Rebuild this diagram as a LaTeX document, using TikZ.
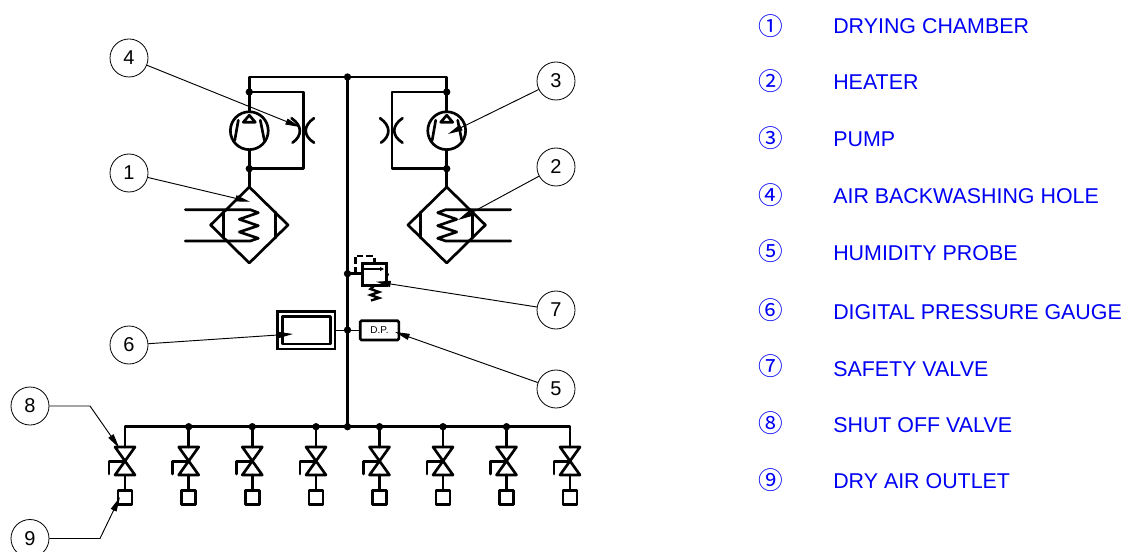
\documentclass[tikz,border=0pt]{standalone}
\usepackage{fontspec}
\setmainfont{Liberation Sans}
\newfontfamily\circfont{Noto Sans CJK JP}
\usetikzlibrary{arrows.meta}
\definecolor{legendblue}{RGB}{0,0,245}
\tikzset{
  x=0.75pt,y=-0.75pt,
  pipe/.style={line width=2pt,black,line join=round,line cap=round},
  lead/.style={line width=0.7pt,black,-{Triangle[length=11pt,width=4.6pt]}},
  callout/.style={circle,draw=black,line width=0.6pt,minimum size=28.5pt,inner sep=0pt,font=\fontsize{15}{16}\selectfont},
  jun/.style={circle,fill=black,inner sep=0pt,minimum size=5.5pt},
  legendtxt/.style={anchor=west,text=legendblue,font=\fontsize{16.05}{18}\selectfont,inner sep=0pt},
  legendnum/.style={anchor=center,text=legendblue,font=\circfont\fontsize{18.5}{20}\selectfont,inner sep=0pt},
}
\newcommand{\pumpsym}[2]{%
  \draw[pipe] (#1,#2) circle[radius=14.2pt];
  \draw[pipe] (#1,#2-15.5) -- (#1-6,#2-8.5) -- (#1+6,#2-8.5) -- cycle;
  \draw[pipe] (#1-11,#2-10.5) -- (#1-14.5,#2+9.5);
  \draw[pipe] (#1+11,#2-10.5) -- (#1+15,#2+9.5);
}
\newcommand{\exch}[3]{% x centre, y centre, side (+1 coil from left, -1 from right)
  \draw[pipe] (#1,#2-38) -- (#1+38.7,#2) -- (#1,#2+38) -- (#1-38.7,#2) -- cycle;
  \draw[pipe] (#1-26,#2-13) -- (#1-26,#2+13);
  \draw[pipe] (#1+26,#2-13) -- (#1+26,#2+13);
  \draw[pipe] (#1-#3*64,#2-15.3) -- (#1+#3*1,#2-15.3) -- (#1+#3*9,#2-12.3) -- (#1-#3*10,#2-5.7) -- (#1+#3*9,#2+0.7) -- (#1-#3*10,#2+7) -- (#1+#3*9,#2+13.3) -- (#1+#3*1,#2+16) -- (#1-#3*64,#2+16);
}
\newcommand{\orifice}[2]{%
  \draw[pipe] (#1-12,#2-12.5) .. controls (#1-1,#2-5) and (#1-1,#2+5) .. (#1-11,#2+12);
  \draw[pipe] (#1+10.5,#2-12.5) .. controls (#1-0.5,#2-5) and (#1-0.5,#2+5) .. (#1+10.5,#2+12);
}
\newcommand{\valvesym}[1]{%
  \draw[pipe] (#1,427) -- (#1,447);
  \draw[pipe] (#1-10,447) -- (#1+10,447) -- (#1-10,475) -- (#1+10,475) -- cycle;
  \draw[pipe] (#1,475) -- (#1,490.7);
  \draw[pipe] (#1-7,490.7) rectangle (#1+7,504.3);
  \draw[pipe] (#1,461.7) -- (#1-16,461.7) -- (#1-16,474);
}
\begin{document}
\begin{tikzpicture}
\useasboundingbox (0,0) rectangle (1126,552);
% main lines
\coordinate (topj) at (347.5,77);
\coordinate (botj) at (347.5,426.7);
\draw[pipe] (249.3,187) -- (249.3,77) -- (446.7,77) -- (446.7,187);
\draw[pipe] (topj) -- (botj);
\draw[pipe] (125,447) -- (125,426.7) -- (570,426.7) -- (570,447);
% bypasses
\draw[pipe] (249.3,92) -- (303.5,92) -- (303.5,168.7) -- (249.3,168.7);
\draw[pipe] (446.7,92) -- (392,92) -- (392,168.7) -- (446.7,168.7);
\foreach \p in {(249.3,92),(249.3,168.7),(446.7,92),(446.7,168.7),(347.5,77),(347.5,426.7),(188.7,426.7),(252.3,426.7),(316,426.7),(379.5,426.7),(443,426.7),(506.5,426.7),(347.5,273.7),(347.5,330)}
  \node[jun] at \p {};
% pumps
\fill[white] (249.3,130.7) circle[radius=14pt];
\fill[white] (446.7,130.7) circle[radius=14pt];
\pumpsym{249.3}{130.7}
\pumpsym{446.7}{130.7}
\orifice{303.5}{130.7}
\orifice{392}{130.7}
% exchangers
\exch{249.3}{225}{1}
\exch{446.7}{225}{-1}
% valves
\foreach \vx in {125,188.7,252.3,316,379.5,443,506.5,570} { \valvesym{\vx} }
% safety valve
\node[draw=black,line width=2pt,minimum width=18pt,minimum height=16.5pt,inner sep=0pt] (sv) at (374.7,274.5) {};
\draw[pipe] (347.5,273.7) -- (sv.west |- 0,273.7);
\draw[line width=2pt,dash pattern=on 5pt off 2.2pt] (355.3,273.7) -- (355.3,256) -- (374.3,256) -- (374.3,263.3);
\draw[line width=0.8pt,-{Triangle[length=3pt,width=3pt]}] (362.7,269) -- (384,269);
\fill (386.5,270) -- (389,274.5) -- (386.5,279) -- cycle;
\draw[line width=1.8pt] (374,286) -- (370.5,289) -- (379,292) -- (370.5,295) -- (379,298) -- (371,300.5);
% gauge
\node[draw=black,line width=2.1pt,minimum width=43.3pt,minimum height=28pt,inner sep=0pt] (gauge) at (306.2,330.4) {};
\draw[pipe] (282.7,316.3) rectangle (330.7,344);
\node[draw=black,line width=2pt,rounded corners=1pt,minimum width=29pt,minimum height=14.5pt,inner sep=0pt,font=\fontsize{7.5}{8}\selectfont] (dp) at (379.5,330.4) {D.P.};
\draw[line width=0.8pt] (gauge.east) -- (dp.west);
% callouts
\node[callout] (c4) at (129,58) {4};
\node[callout] (c3) at (556,81) {3};
\node[callout] (c1) at (129,173) {1};
\node[callout] (c2) at (556,167) {2};
\node[callout] (c7) at (556,310) {7};
\node[callout] (c6) at (129,345) {6};
\node[callout] (c5) at (556,389) {5};
\node[callout] (c8) at (30,406) {8};
\node[callout] (c9) at (30,538.5) {9};
% tips
\coordinate (t4) at (300,127);
\coordinate (t3) at (448,134);
\coordinate (t1) at (250,201.7);
\coordinate (t2) at (458,220);
\coordinate (t7) at (376,281.7);
\coordinate (t6) at (293,334);
\coordinate (t5) at (395,332);
\coordinate (t8) at (119.3,448);
\coordinate (t9) at (120,497);
\coordinate (k8) at (90,406);
\coordinate (k9) at (100,538.5);
\draw[lead] (c4) -- (t4);
\draw[lead] (c3) -- (t3);
\draw[lead] (c1) -- (t1);
\draw[lead] (c2) -- (t2);
\draw[lead] (c7) -- (t7);
\draw[lead] (c6) -- (t6);
\draw[lead] (c5) -- (t5);
\draw[lead] (c8) -- (k8) -- (t8);
\draw[lead] (c9) -- (k9) -- (t9);
% legend
\foreach \n/\ny/\y/\t in {①/26/26/DRYING CHAMBER,②/81/82/HEATER,③/138/139/PUMP,④/195/196/AIR BACKWASHING HOLE,⑤/251/253/HUMIDITY PROBE,⑥/310/312/DIGITAL PRESSURE GAUGE,⑦/366/369/SAFETY VALVE,⑧/423/425/SHUT OFF VALVE,⑨/480/481/DRY AIR OUTLET} {
  \node[legendnum] at (771,\ny) {\n};
  \node[legendtxt] at (833,\y) {\t};
}
\end{tikzpicture}
\end{document}
